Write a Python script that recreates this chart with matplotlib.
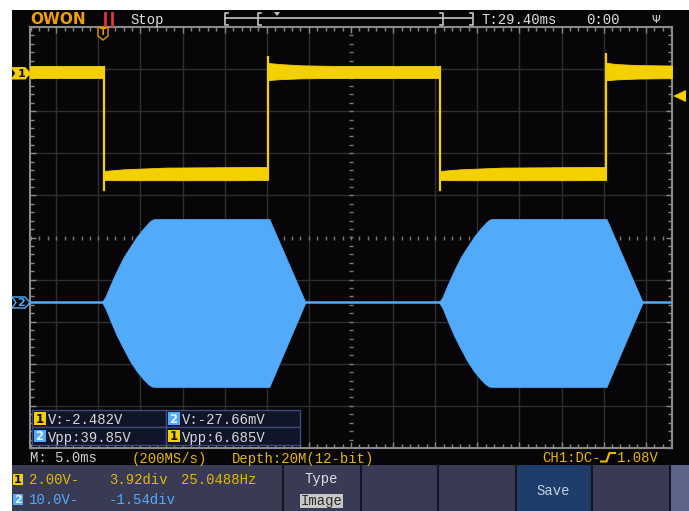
import matplotlib
matplotlib.use('Agg')
import matplotlib.pyplot as plt
from matplotlib.patches import Rectangle, Polygon
import numpy as np

# ---------------- data ----------------
# horizontal: ms, vertical: volts
TIME_PER_DIV = 5.0          # ms/div
CH1_SCALE, CH1_OFFSET = 2.0, 3.92    # V/div, div
CH2_SCALE, CH2_OFFSET = 10.0, -1.54  # V/div, div

# CH1 square wave (noisy band: upper/lower envelope)
ch1_t   = [-38.12, -29.33, -29.33, -27.0, -22.0, -15.0, -9.86, -9.86, -8.5, -6.0, -2.0,
           10.57, 10.57, 13.0, 18.0, 25.0, 30.29, 30.29, 31.5, 34.0, 38.12]
ch1_top = [0.31, 0.31, -4.68, -4.60, -4.52, -4.50, -4.49, 0.45, 0.40, 0.34, 0.31,
           0.31, -4.68, -4.60, -4.52, -4.50, -4.49, 0.46, 0.40, 0.35, 0.33]
ch1_bot = [-0.26, -0.26, -5.11, -5.12, -5.12, -5.12, -5.11, -0.36, -0.32, -0.28, -0.26,
           -0.26, -5.11, -5.12, -5.12, -5.12, -5.11, -0.37, -0.33, -0.29, -0.27]
ch1_edge_t  = [-29.33, -9.86, 10.57, 30.29]
ch1_edge_lo = [-5.63, -5.11, -5.63, -5.11]
ch1_edge_hi = [0.31, 0.78, 0.31, 0.93]

# CH2 bursts: envelope relative to burst start
ch2_burst_start = [-29.60, 10.45]
ch2_env_dt  = [0.0, 0.40, 0.99, 1.78, 2.57, 3.37, 4.16, 4.95, 5.55, 5.94, 6.33, 19.9, 24.2]
ch2_env_top = [0.0, 1.2, 4.0, 7.5, 10.7, 13.2, 15.6, 17.6, 18.9, 19.6, 19.8, 19.8, 0.0]
ch2_env_bot = [0.0, -1.3, -4.2, -7.9, -11.0, -14.0, -16.4, -18.3, -19.5, -20.0, -20.1, -20.1, 0.0]

# texts
meas_rows = [[("1", "V:-2.482V"), ("2", "V:-27.66mV")],
             [("2", "Vpp:39.85V"), ("1", "Vpp:6.685V")]]
status_time = "T:29.40ms"
status_clock = "0:00"

# ---------------- figure ----------------
W, H = 689, 511
fig = plt.figure(figsize=(W / 100, H / 100), dpi=100)
fig.patch.set_facecolor('white')

MONO = ['Liberation Mono', 'DejaVu Sans Mono']
YEL = '#f5d000'
YTXT = '#e6b800'
BLU = '#52abfa'
SCREEN = '#070508'

bg = fig.add_axes([0, 0, 1, 1], zorder=0)
bg.set_xlim(0, W); bg.set_ylim(H, 0); bg.axis('off')
bg.add_patch(Rectangle((12, 10), W - 12, 455, color=SCREEN, lw=0))
bg.add_patch(Rectangle((12, 465), W - 12, 46, color='#393b54', lw=0))
bg.add_patch(Rectangle((516, 465), 76, 46, color='#1e3d6b', lw=0))
bg.add_patch(Rectangle((671, 465), 18, 46, color='#5c6589', lw=0))
for xd in [283, 361, 438, 516, 592, 670]:
    bg.plot([xd, xd], [465, 511], color='#16161f', lw=1.5)

# ---------------- scope axes ----------------
x0, x1, y0, y1 = 30, 672, 27, 448
ax = fig.add_axes([x0 / W, 1 - y1 / H, (x1 - x0) / W, (y1 - y0) / H], zorder=1)
ax.set_facecolor(SCREEN)
half_t = (x1 - x0) / 2 / 42.1 * TIME_PER_DIV
ax.set_xlim(-half_t, half_t)
ax.set_ylim(-5, 5)

gcol = '#2e2e2e'
for k in range(1, 8):
    for s in (-1, 1):
        ax.axvline(s * k * TIME_PER_DIV, color=gcol, lw=1, zorder=0)
for k in range(1, 5):
    for s in (-1, 1):
        ax.axhline(s * k, color=gcol, lw=1, zorder=0)
ct = np.arange(-38, 38.5, 1.0)
ax.plot(ct, np.zeros_like(ct), ls='none', marker='|', ms=2.2, mew=1, color='#7a7a7a', zorder=1)
cy = np.arange(-5, 5.01, 0.2)
ax.plot(np.zeros_like(cy), cy, ls='none', marker='_', ms=2.2, mew=1, color='#7a7a7a', zorder=1)

ax.set_xticks(np.arange(-35, 36, 5))
ax.set_xticks(np.arange(-38, 39, 1), minor=True)
ax.set_yticks(np.arange(-5, 6, 1))
ax.set_yticks(np.arange(-5, 5.01, 0.2), minor=True)
ax.tick_params(which='both', direction='in', top=True, right=True, bottom=True, left=True,
               labelbottom=False, labelleft=False, color='#8a8a8a', width=1)
ax.tick_params(which='major', length=4)
ax.tick_params(which='minor', length=3)
for sp in ax.spines.values():
    sp.set_color('#8a8a8a'); sp.set_linewidth(1.5)

def v1(v):
    return np.asarray(v) / CH1_SCALE + CH1_OFFSET

def v2(v):
    return np.asarray(v) / CH2_SCALE + CH2_OFFSET

# CH2
ax.plot([-half_t, half_t], [v2(0), v2(0)], color=BLU, lw=1.8, zorder=3)
for ts in ch2_burst_start:
    tt = ts + np.asarray(ch2_env_dt)
    ax.fill_between(tt, v2(ch2_env_bot), v2(ch2_env_top), color=BLU, lw=0.5, ec=BLU, zorder=3)

# CH1
ax.fill_between(ch1_t, v1(ch1_bot), v1(ch1_top), color=YEL, lw=0.6, ec=YEL, zorder=4)
ax.vlines(ch1_edge_t, v1(ch1_edge_lo), v1(ch1_edge_hi), color=YEL, lw=1.6, zorder=4)

# ---------------- overlay ----------------
ov = fig.add_axes([0, 0, 1, 1], zorder=2)
ov.set_xlim(0, W); ov.set_ylim(H, 0); ov.axis('off')
ov.patch.set_alpha(0)

def txt(x, y, s, color='#e0e0e0', size=10, ha='left', **kw):
    ov.text(x, y, s, color=color, fontsize=size, ha=ha, va='baseline', family=MONO, **kw)

# top status bar
ov.text(30, 24.5, 'OWON', color='#f0a000', fontsize=11, fontweight='bold', family='DejaVu Sans',
        va='baseline', ha='left')
ov.plot([105, 105], [13, 25], color='#e23535', lw=2)
ov.plot([112, 112], [13, 25], color='#e23535', lw=2)
txt(130, 24, 'Stop')
mc = '#c4c4c4'
ov.plot([225, 472], [18.3, 18.3], color=mc, lw=1.2)
for xb, d in [(225, 1), (258, 1), (443, -1), (473, -1)]:
    ov.plot([xb + 3 * d, xb, xb, xb + 3 * d], [13, 13, 25, 25], color=mc, lw=1.2)
ov.add_patch(Polygon([(274, 12), (280, 12), (277, 16)], color=mc, lw=0))
txt(482, 23.5, status_time)
txt(586, 23.5, status_clock)
ov.text(656, 23, '\u03A8', color='#e0e0e0', fontsize=8, ha='center', va='baseline', family='DejaVu Sans')

# trigger position marker
ov.add_patch(Polygon([(98, 27.5), (108, 27.5), (108, 36), (103, 40), (98, 36)],
                     fc=SCREEN, ec='#e39a00', lw=1))
ov.text(103, 32.5, 'T', color='#e39a00', fontsize=6.5, fontweight='bold', ha='center', va='center',
        family='DejaVu Sans')

# channel markers
def chan_marker(yc, label, fc, ec, tc):
    pts = [(12, yc - 5.5), (25, yc - 5.5), (30, yc), (25, yc + 5.5), (12, yc + 5.5), (16, yc)]
    ov.add_patch(Polygon(pts, fc=fc, ec=ec, lw=1))
    ov.text(21.5, yc + 0.5, label, color=tc, fontsize=8, fontweight='bold', ha='center', va='center',
            family='DejaVu Sans')

chan_marker(73.3, '1', YEL, YEL, '#101010')
chan_marker(302.5, '2', SCREEN, BLU, BLU)
ov.add_patch(Polygon([(673, 96), (686, 90), (686, 102)], color=YEL, lw=0))

# measurement box
cell_w, cell_h = 134, 17.5
for r, row in enumerate(meas_rows):
    for c, (ch, s) in enumerate(row):
        cx, cy0 = 32 + c * cell_w, 410 + r * cell_h
        ov.add_patch(Rectangle((cx, cy0), cell_w, cell_h, fc='#111528', ec='#3d4c80', lw=1))
        bc = YEL if ch == '1' else BLU
        ov.add_patch(Rectangle((cx + 1.5, cy0 + 2.5), 12, 12.5, color=bc, lw=0))
        ov.text(cx + 7.5, cy0 + 9.2, ch, color='#101010' if ch == '1' else '#f0f0f0', fontsize=8.5,
                fontweight='bold', ha='center', va='center', family='DejaVu Sans')
        txt(cx + 16, cy0 + 14.3, s, color='#d8d8d8')

# bottom info line
txt(30, 462.5, 'M: 5.0ms', color='#d0d0d0')
txt(132, 462.5, '(200MS/s)', color=YTXT)
txt(232, 462.5, 'Depth:20M(12-bit)', color=YTXT)
txt(542, 462.5, 'CH1:DC-', color=YTXT)
ov.plot([601, 606.5, 609.5, 615], [461.5, 461.5, 453, 453], color=YTXT, lw=1.5)
txt(617, 462.5, '1.08V', color=YTXT)

# menu
ov.add_patch(Rectangle((13, 474.5), 10, 11, color=YEL, lw=0))
ov.text(18, 480.3, '1', color='#101010', fontsize=8, fontweight='bold', ha='center', va='center',
        family='DejaVu Sans')
txt(29, 484, '2.00V-', color=YTXT)
txt(109, 484, '3.92div', color=YTXT)
txt(181, 484, '25.0488Hz', color=YTXT)
ov.add_patch(Rectangle((13, 494.5), 10, 11, color=BLU, lw=0))
ov.text(18, 500.3, '2', color='#f0f0f0', fontsize=8, fontweight='bold', ha='center', va='center',
        family='DejaVu Sans')
txt(29, 504, '10.0V-', color=BLU)
txt(109, 504, '-1.54div', color=BLU)

txt(321, 483.5, 'Type', color='#e0e0e0', ha='center')
ov.add_patch(Rectangle((300, 494), 43, 14, color='#c8c8c8', lw=0))
txt(321.5, 504.5, 'Image', color='#2a2a2a', ha='center')
txt(553, 495, 'Save', color='#c8d0e0', ha='center')

fig.savefig('out.png', dpi=100, facecolor=fig.get_facecolor())
